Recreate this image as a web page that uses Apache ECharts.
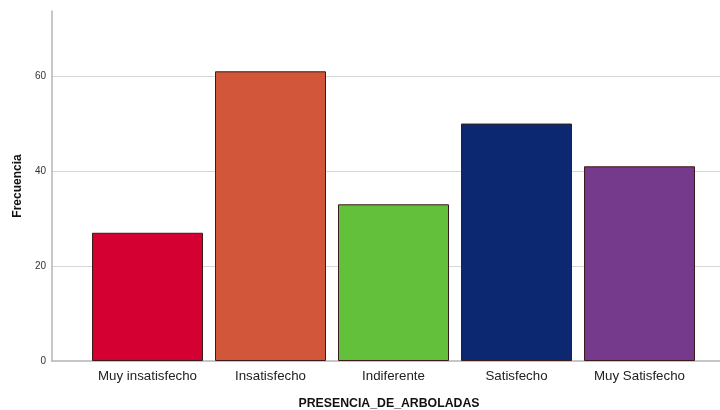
<!DOCTYPE html>
<html>
<head>
<meta charset="utf-8">
<script src="https://cdn.jsdelivr.net/npm/echarts@6/dist/echarts.min.js"></script>
<style>
  html, body { margin: 0; padding: 0; background: #fff; }
  #chart { width: 720px; height: 410px; }
</style>
</head>
<body>
<div id="chart"></div>
<script>
// Frequencies per satisfaction level
const categories = ['Muy insatisfecho', 'Insatisfecho', 'Indiferente', 'Satisfecho', 'Muy Satisfecho'];
const counts = [27, 61, 33, 50, 41];
const barColors = ['#d50032', '#d2573a', '#62c03a', '#0b2870', '#763a8c'];
const yTicks = [0, 20, 40, 60];

const Y_MAX = 73.7;
const font = 'Arial, "Liberation Sans", sans-serif';

const chart = echarts.init(document.getElementById('chart'), null, { renderer: 'canvas' });

chart.setOption({
  animation: false,
  backgroundColor: '#ffffff',
  grid: [
    // frame grid: axis lines and gridlines
    { left: 52, right: 0, top: 11, bottom: 49, containLabel: false, outerBoundsMode: 'none' },
    // bar grid: inner band for the categories
    { left: 86, right: 19, top: 11, bottom: 49, containLabel: false, outerBoundsMode: 'none' }
  ],
  xAxis: [
    {
      gridIndex: 0, type: 'value', min: 0, max: 1,
      axisLine: { show: true, lineStyle: { color: '#b4b4b4', width: 1.5 } },
      axisTick: { show: false }, axisLabel: { show: false }, splitLine: { show: false },
      name: 'PRESENCIA_DE_ARBOLADAS', nameLocation: 'middle', nameGap: 37,
      nameTextStyle: { fontFamily: font, fontWeight: 'bold', fontSize: 12.3, color: '#111', padding: [0, 0, 0, 6] }
    },
    {
      gridIndex: 1, type: 'category', data: categories,
      boundaryGap: true,
      axisLine: { show: false }, axisTick: { show: false },
      axisLabel: { fontFamily: font, fontSize: 13.3, color: '#222', margin: 9, interval: 0, hideOverlap: false }
    }
  ],
  yAxis: [
    {
      gridIndex: 0, type: 'value', min: 0, max: Y_MAX, interval: 20,
      axisLine: { show: true, lineStyle: { color: '#b4b4b4', width: 1.5 } },
      axisTick: { show: false },
      axisLabel: {
        fontFamily: font, fontSize: 10, color: '#333', margin: 6, showMaxLabel: false,
        formatter: v => (yTicks.indexOf(v) >= 0 ? String(v) : '')
      },
      splitLine: { show: true, showMinLine: false, showMaxLine: false, lineStyle: { color: '#d6d6d6', width: 1 } },
      name: 'Frecuencia', nameLocation: 'middle', nameGap: 28, nameRotate: 90,
      nameTextStyle: { fontFamily: font, fontWeight: 'bold', fontSize: 12, color: '#111' }
    },
    {
      gridIndex: 1, type: 'value', min: 0, max: Y_MAX, interval: 20,
      axisLine: { show: false }, axisTick: { show: false },
      axisLabel: { show: false }, splitLine: { show: false }
    }
  ],
  series: [{
    type: 'bar',
    xAxisIndex: 1, yAxisIndex: 1,
    data: counts.map((v, i) => ({
      value: v,
      itemStyle: { color: barColors[i] }
    })),
    barWidth: 111,
    itemStyle: { borderColor: '#3a1a1a', borderWidth: 1 },
    z: 3
  }]
});
</script>
</body>
</html>
